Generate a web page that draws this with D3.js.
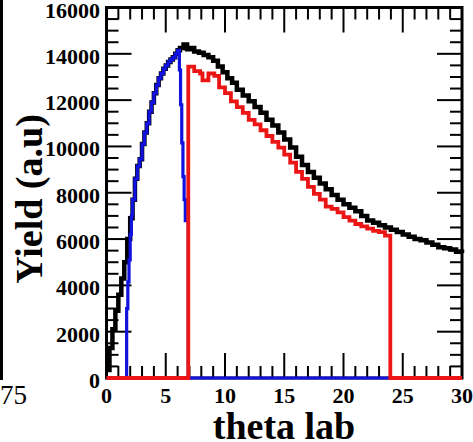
<!DOCTYPE html>
<html>
<head>
<meta charset="utf-8">
<script src="https://cdn.jsdelivr.net/npm/d3@7"></script>
<style>
  html, body { margin: 0; padding: 0; background: #fff; }
  svg { display: block; }
</style>
</head>
<body>
<svg id="chart" width="473" height="442"></svg>
<script>
// Yield vs laboratory angle: total (black) and two partial contributions (blue, red)
const blackTheta = [0, 0.25, 0.5, 0.75, 1.0, 1.25, 1.5, 1.75, 2.0,
  2.2, 2.4, 2.6, 2.8, 3.0, 3.2, 3.4, 3.6, 3.8, 4.0, 4.2, 4.4, 4.6, 4.8, 5.0, 5.2, 5.4, 5.6, 5.8, 6.0,
  6.2, 6.5, 6.8, 7.1, 7.4, 7.8, 8.2, 8.6, 9.0, 9.4, 9.8, 10.2, 10.6, 11.0, 11.5, 12.0, 12.5, 13.0,
  13.5, 14.0, 14.5, 15.0, 15.5, 16.0, 16.5, 17.0, 17.5, 18.0, 18.5, 19.0, 19.5, 20.0, 20.5, 21.0,
  21.5, 22.0, 22.5, 23.0, 23.5, 24.0, 24.5, 25.0, 25.5, 26.0, 26.5, 27.0, 27.5, 28.0, 28.5, 29.0,
  29.5, 30];
const blackYield = [350, 1300, 2100, 2900, 3600, 4300, 5000, 6000, 6900,
  7700, 8600, 9150, 9450, 10100, 10600, 11000, 11500, 11900, 12300, 12650, 12950, 13150, 13350, 13500, 13650, 13750, 13850, 14000, 14150,
  14250, 14400, 14200, 14250, 14100, 14050, 13950, 13850, 13700, 13450, 13200, 12950, 12750, 12450, 12200, 11950, 11700, 11450,
  11150, 10900, 10600, 10300, 9950, 9550, 9200, 8900, 8650, 8400, 8150, 7900, 7700, 7500, 7350, 7200,
  7000, 6800, 6700, 6600, 6500, 6400, 6300, 6200, 6100, 6000, 5950, 5850, 5750, 5650, 5600, 5550,
  5450, 5400];

const blueTheta = [0, 1.7, 1.8, 1.9, 2.0, 2.1,
  2.2, 2.4, 2.6, 2.8, 3.0, 3.2, 3.4, 3.6, 3.8, 4.0, 4.2, 4.4, 4.6, 4.8, 5.0, 5.2, 5.4, 5.6, 5.8, 6.0,
  6.15, 6.25, 6.35, 6.45, 6.55, 6.65, 6.9, 30];
const blueYield = [0, 3000, 4150, 5100, 6200, 7000,
  7700, 8600, 9150, 9450, 10100, 10600, 11000, 11500, 11900, 12300, 12650, 12950, 13150, 13350, 13500, 13650, 13750, 13850, 14000, 14150,
  13300, 11800, 10150, 8700, 7700, 6800, 0, 0];

const redTheta = [0, 6.9, 7.4, 7.9, 8.1, 8.6, 9.1, 9.5, 10.0, 10.5, 11.0, 11.5, 12.0, 12.5, 13.0,
  13.5, 14.0, 14.5, 15.0, 15.5, 16.0, 16.5, 17.0, 17.5, 18.0, 18.5, 19.0, 19.5, 20.0, 20.5, 21.0,
  21.5, 22.0, 22.5, 23.0, 23.5, 23.95, 30];
const redYield = [0, 13450, 13250, 13150, 12850, 13150, 13050, 12550, 12300, 11950, 11700, 11450, 11150, 10950, 10700,
  10450, 10200, 9950, 9650, 9300, 8900, 8600, 8250, 7950, 7700, 7400, 7300, 7150, 6950, 6800, 6650,
  6550, 6450, 6350, 6300, 6150, 0, 0];

const xMajorTicks = [0, 5, 10, 15, 20, 25, 30];
const yMajorTicks = [0, 2000, 4000, 6000, 8000, 10000, 12000, 14000, 16000];
const xTitle = "theta lab";
const yTitle = "Yield (a.u)";
const neighbourLabel = "75";

const serif = "'Liberation Serif', 'Times New Roman', Times, serif";
const svg = d3.select("#chart");
const plotLeft = 106.5, plotRight = 462, plotTop = 7.5, plotBottom = 378;

const x = d3.scaleLinear().domain([0, 30]).range([plotLeft, plotRight]);
const y = d3.scaleLinear().domain([0, 16000]).range([plotBottom, plotTop]);

// edge of the neighbouring panel on the left
svg.append("line").attr("x1", 1.5).attr("x2", 1.5).attr("y1", 0).attr("y2", 380)
  .attr("stroke", "#000").attr("stroke-width", 3);
svg.append("text").attr("x", 27).attr("y", 404).attr("text-anchor", "end")
  .attr("font-family", serif).attr("font-size", 27).text(neighbourLabel);

const majorLen = 25, minorLen = 12;
const xMinor = d3.range(0, 31, 1).filter(v => v % 5 !== 0);
const yMinor = d3.range(0, 16001, 500).filter(v => v % 2000 !== 0);

// ticks on all four sides, pointing inward
const ticks = svg.append("g").attr("stroke", "#000").attr("stroke-width", 2);
function xTick(v, len) {
  ticks.append("line").attr("x1", x(v)).attr("x2", x(v)).attr("y1", plotBottom).attr("y2", plotBottom - len);
  ticks.append("line").attr("x1", x(v)).attr("x2", x(v)).attr("y1", plotTop).attr("y2", plotTop + len);
}
function yTick(v, len) {
  ticks.append("line").attr("y1", y(v)).attr("y2", y(v)).attr("x1", plotLeft).attr("x2", plotLeft + len);
  ticks.append("line").attr("y1", y(v)).attr("y2", y(v)).attr("x1", plotRight).attr("x2", plotRight - len);
}
xMajorTicks.forEach(v => xTick(v, majorLen));
xMinor.forEach(v => xTick(v, minorLen));
yMajorTicks.forEach(v => yTick(v, majorLen));
yMinor.forEach(v => yTick(v, minorLen));

// frame
svg.append("rect").attr("x", plotLeft).attr("y", plotTop)
  .attr("width", plotRight - plotLeft).attr("height", plotBottom - plotTop)
  .attr("fill", "none").attr("stroke", "#000").attr("stroke-width", 3);

// tick labels
svg.append("g").selectAll("text").data(xMajorTicks).join("text")
  .attr("x", d => x(d)).attr("y", 403).attr("text-anchor", "middle")
  .attr("font-family", serif).attr("font-size", 22).attr("font-weight", "bold")
  .text(d => String(d));
svg.append("g").selectAll("text").data(yMajorTicks).join("text")
  .attr("x", 100).attr("y", d => y(d) + 10).attr("text-anchor", "end")
  .attr("font-family", serif).attr("font-size", 22).attr("font-weight", "bold")
  .text(d => String(d));

// axis titles
svg.append("text").attr("x", 284).attr("y", 439).attr("text-anchor", "middle")
  .attr("font-family", serif).attr("font-size", 38).attr("font-weight", "bold").text(xTitle);
svg.append("text").attr("transform", "translate(42,199) rotate(-90)").attr("text-anchor", "middle")
  .attr("font-family", serif).attr("font-size", 38).attr("font-weight", "bold").text(yTitle);

// histogram curves
const line = d3.line().curve(d3.curveStepAfter).x(d => x(d[0])).y(d => y(d[1]));
const series = [
  { t: blackTheta, v: blackYield, color: "#000000", w: 4.5 },
  { t: blueTheta, v: blueYield, color: "#1212e0", w: 3.2 },
  { t: redTheta, v: redYield, color: "#ec1515", w: 3.8 }
];
series.forEach(s => {
  svg.append("path").datum(s.t.map((t, i) => [t, s.v[i]]))
    .attr("d", line).attr("fill", "none")
    .attr("stroke", s.color).attr("stroke-width", s.w)
    .attr("stroke-linejoin", "miter");
});
</script>
</body>
</html>
